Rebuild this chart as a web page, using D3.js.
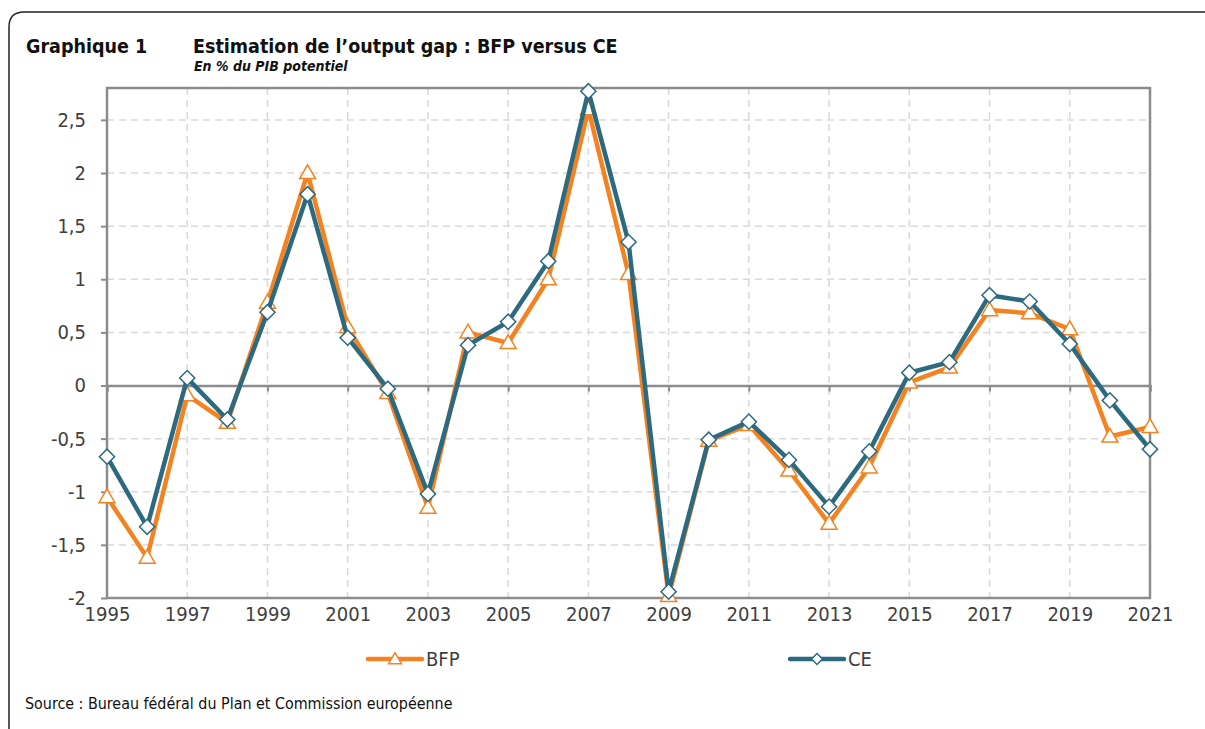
<html>
<head>
<meta charset="utf-8">
<title>Output gap BFP versus CE</title>
<style>
    body {
        margin: 0;
        padding: 0;
        background: #fff;
        font-family: "DejaVu Sans Condensed", "DejaVu Sans", sans-serif;
    }
    .grid line {
        stroke: #d9d9d9;
        stroke-width: 1.5;
        stroke-dasharray: 7, 5;
    }
    .tick-label {
        font-size: 20px;
        fill: #404040;
    }
</style>
</head>
<body>
<div id="chart"></div>

<script src="https://d3js.org/d3.v7.min.js"></script>
<script>
    // data
    var years = d3.range(1995, 2022);
    var bfp = [-1.05, -1.62, -0.09, -0.35, 0.78, 2.0, 0.55, -0.07, -1.15, 0.5, 0.4, 1.0, 2.6, 1.05, -1.98,
        -0.52, -0.37, -0.8, -1.3, -0.77, 0.03, 0.17, 0.71, 0.68, 0.53, -0.48, -0.39];
    var ce = [-0.67, -1.33, 0.07, -0.32, 0.69, 1.8, 0.45, -0.03, -1.02, 0.38, 0.6, 1.17, 2.77, 1.35, -1.94,
        -0.51, -0.34, -0.7, -1.14, -0.62, 0.12, 0.22, 0.85, 0.79, 0.39, -0.14, -0.6];
    var yTicks = [-2, -1.5, -1, -0.5, 0, 0.5, 1, 1.5, 2, 2.5];
    var xTicks = d3.range(1995, 2022, 2);

    var width = 1205, height = 729;
    var margin = {top: 88, left: 107, right: 55, bottom: 131};

    var svg = d3.select("#chart").append("svg")
        .attr("width", width)
        .attr("height", height);

    // frame with rounded top-left corner (cut off by the window)
    svg.append("path")
        .attr("d", "M9,740 L9,27 Q9,12 24,12 L1215,12")
        .attr("fill", "none")
        .attr("stroke", "#222")
        .attr("stroke-width", 1.5);

    svg.append("text").attr("x", 26).attr("y", 53)
        .style("font-weight", "bold").style("font-size", "19.5px").attr("fill", "#111")
        .text("Graphique 1");
    svg.append("text").attr("x", 193).attr("y", 53)
        .style("font-weight", "bold").style("font-size", "19.5px").attr("fill", "#111")
        .text("Estimation de l\u2019output gap : BFP versus CE");
    svg.append("text").attr("x", 194).attr("y", 71)
        .style("font-weight", "bold").style("font-style", "italic").style("font-size", "14px").attr("fill", "#111")
        .text("En % du PIB potentiel");

    var x = d3.scaleLinear()
        .domain([1995, 2021])
        .range([margin.left, width - margin.right]);

    var y = d3.scaleLinear()
        .domain([-2, 2.8])
        .range([height - margin.bottom, margin.top]);

    // grid
    var grid = svg.append("g").attr("class", "grid");
    grid.selectAll(".hg")
        .data(yTicks.filter(function (d) { return d !== 0 && d !== -2; }))
        .enter().append("line")
        .attr("x1", x(1995)).attr("x2", x(2021))
        .attr("y1", function (d) { return y(d); })
        .attr("y2", function (d) { return y(d); });
    grid.selectAll(".vg")
        .data(xTicks.filter(function (d) { return d !== 1995 && d !== 2021; }))
        .enter().append("line")
        .attr("y1", y(2.8)).attr("y2", y(-2))
        .attr("x1", function (d) { return x(d); })
        .attr("x2", function (d) { return x(d); });

    // plot border
    svg.append("rect")
        .attr("x", x(1995)).attr("y", y(2.8))
        .attr("width", x(2021) - x(1995))
        .attr("height", y(-2) - y(2.8))
        .attr("fill", "none")
        .attr("stroke", "#8c8c8c")
        .attr("stroke-width", 2.5);

    // y axis
    var yAxis = svg.append("g")
        .attr("transform", "translate(" + x(1995) + ",0)")
        .call(d3.axisLeft(y).tickValues(yTicks).tickSize(6).tickPadding(15)
            .tickFormat(function (d) { return String(d).replace(".", ","); }));
    yAxis.select(".domain").remove();
    yAxis.selectAll("line").attr("stroke", "#8c8c8c").attr("stroke-width", 2);
    yAxis.selectAll("text").attr("class", "tick-label");
    yAxis.attr("font-family", null).attr("font-size", null);

    // zero line with ticks
    var zAxis = svg.append("g")
        .attr("transform", "translate(0," + y(0) + ")")
        .call(d3.axisBottom(x).tickValues(xTicks).tickSize(6).tickFormat(""));
    zAxis.select(".domain").attr("stroke", "#8c8c8c").attr("stroke-width", 2.5);
    zAxis.selectAll("line").attr("stroke", "#8c8c8c").attr("stroke-width", 2);

    // x labels at the bottom
    var xAxis = svg.append("g")
        .attr("transform", "translate(0," + y(-2) + ")")
        .call(d3.axisBottom(x).tickValues(xTicks).tickSize(0).tickPadding(9)
            .tickFormat(d3.format("d")));
    xAxis.select(".domain").remove();
    xAxis.selectAll("text").attr("class", "tick-label");
    xAxis.attr("font-family", null).attr("font-size", null);

    var orange = "#f58220", teal = "#2c6a7f";

    var line = d3.line()
        .x(function (d, i) { return x(years[i]); })
        .y(function (d) { return y(d); });

    var tri = d3.symbol().type(d3.symbolTriangle).size(110);
    var sq = d3.symbol().type(d3.symbolSquare).size(115);

    function drawSeries(vals, color, sym, dy, rot) {
        svg.append("path")
            .datum(vals)
            .attr("d", line)
            .attr("fill", "none")
            .attr("stroke", color)
            .attr("stroke-width", 4.5)
            .attr("stroke-linejoin", "round");
        svg.append("g").selectAll("path")
            .data(vals)
            .enter().append("path")
            .attr("d", sym)
            .attr("transform", function (d, i) {
                return "translate(" + x(years[i]) + "," + (y(d) + dy) + ") rotate(" + rot + ")";
            })
            .attr("fill", "#fff")
            .attr("stroke", color)
            .attr("stroke-width", 1.5);
    }

    drawSeries(bfp, orange, tri, 1, 0);
    drawSeries(ce, teal, sq, 0, 45);

    // legend
    var legend = [
        {name: "BFP", color: orange, sym: d3.symbol().type(d3.symbolTriangle).size(70), x: 368, dy: 1, rot: 0},
        {name: "CE", color: teal, sym: d3.symbol().type(d3.symbolSquare).size(60), x: 790, dy: 0, rot: 45}
    ];
    var lg = svg.append("g").selectAll("g")
        .data(legend)
        .enter().append("g")
        .attr("transform", function (d) { return "translate(" + d.x + ",659)"; });
    lg.append("line")
        .attr("x1", 0).attr("x2", 54)
        .attr("stroke", function (d) { return d.color; })
        .attr("stroke-width", 4.5)
        .attr("stroke-linecap", "round");
    lg.append("path")
        .attr("d", function (d) { return d.sym(); })
        .attr("transform", function (d) { return "translate(27," + d.dy + ") rotate(" + d.rot + ")"; })
        .attr("fill", "#fff")
        .attr("stroke", function (d) { return d.color; })
        .attr("stroke-width", 1.5);
    lg.append("text")
        .attr("x", 58).attr("y", 7)
        .attr("class", "tick-label")
        .text(function (d) { return d.name; });

    svg.append("text").attr("x", 25).attr("y", 709)
        .style("font-size", "15.9px").attr("fill", "#111")
        .text("Source : Bureau f\u00e9d\u00e9ral du Plan et Commission europ\u00e9enne");
</script>
</body>
</html>
